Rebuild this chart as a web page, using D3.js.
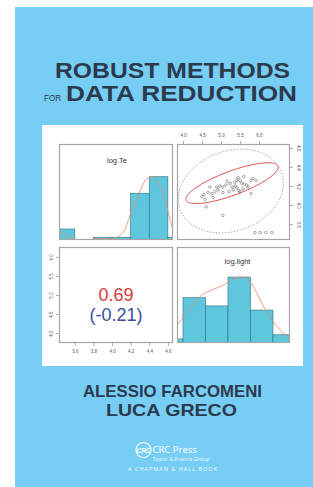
<!DOCTYPE html>
<html>
<head>
<meta charset="utf-8">
<script src="https://cdn.jsdelivr.net/npm/d3@7"></script>
<style>
body { margin: 0; background: #fff; }
</style>
</head>
<body>
<div id="cover"></div>
<script>
var svgWidth = 313,
    svgHeight = 487;

// ---- data read off the cover ----
// log.Te histogram (breaks and counts) with its density line
var teBreaks = [3.4, 3.6, 3.8, 4.0, 4.2, 4.4, 4.6, 4.8];
var teCounts = [4, 0, 1, 1, 17, 23, 1];
var teDensX = [3.43, 3.50, 3.58, 3.69, 3.82, 3.98, 4.06, 4.13, 4.19, 4.26, 4.32, 4.37, 4.43, 4.48, 4.54, 4.59, 4.63, 4.665];
var teDensY = [3.3, 1.8, 0.4, 0.0, 0.5, 0.5, 1.1, 3.3, 8.7, 14.5, 19.3, 22.2, 23.1, 21.5, 17.5, 12.0, 6.5, 2.9];

// log.light histogram with its density line
var lightBreaks = [3.5, 4.0, 4.5, 5.0, 5.5, 6.0, 6.5];
var lightCounts = [1, 11, 9, 16, 8, 2];
var lightDensX = [3.87, 4.0, 4.22, 4.44, 4.67, 4.89, 5.11, 5.29, 5.44, 5.6, 5.78, 6.0, 6.22, 6.38];
var lightDensY = [4.4, 6.1, 9.3, 11.8, 13.0, 14.0, 15.5, 16.0, 15.5, 13.0, 9.1, 5.2, 2.5, 1.2];

// scatter: log.light (x) against log.Te (y)
var scatterLight = [5.89, 6.03, 6.18, 6.34, 5.05, 4.61, 4.50, 4.76, 4.79, 4.84, 4.71, 4.89, 4.97, 5.05,
                    5.05, 5.24, 5.29, 5.37, 5.42, 5.45, 5.50, 5.32, 5.42, 5.47, 5.55, 5.61, 5.68, 5.71,
                    5.79, 5.84, 5.92, 5.79, 5.50, 5.21, 4.55, 4.66, 5.13, 5.60, 4.92, 5.16, 4.58, 5.36, 5.58];
var scatterTe =    [3.71, 3.71, 3.71, 3.71, 3.89, 3.98, 4.09, 4.12, 4.08, 4.14, 4.19, 4.19, 4.20, 4.19,
                    4.13, 4.23, 4.19, 4.20, 4.26, 4.29, 4.26, 4.16, 4.18, 4.15, 4.23, 4.22, 4.21, 4.19,
                    4.26, 4.28, 4.26, 4.12, 4.14, 4.14, 4.11, 4.13, 4.21, 4.30, 4.16, 4.25, 4.06, 4.24, 4.17];

// ellipses: centre and two half-axis vectors, in data units
var robustEllipse = {c: [5.29, 4.23], a: [1.21, 0.179], b: [0.108, -0.119]};
var classicEllipse = {c: [5.26, 4.147], a: [1.335, 0.195], b: [0.36, -0.396]};

var teTicks = [3.6, 3.8, 4.0, 4.2, 4.4, 4.6];
var teRightTicks = [3.8, 4.0, 4.2, 4.4, 4.6];
var lightTicks = [4.0, 4.5, 5.0, 5.5, 6.0];

var robustCor = "0.69",
    classicCor = "(-0.21)";

// ---- layout ----
var ink = "#2c3a4e",
    barFill = "#5ec6dd",
    barStroke = "#2f6f80",
    densColor = "#f0866a",
    frameColor = "#a6a6a6";

var svg = d3.select("#cover")
    .append("svg")
        .attr("width", svgWidth)
        .attr("height", svgHeight);

svg.append("rect")
    .attr("x", 15).attr("y", 7)
    .attr("width", svgWidth - 15).attr("height", svgHeight - 7)
    .attr("fill", "#77cef5");

// titles
svg.append("text")
    .attr("x", 55).attr("y", 78)
    .attr("textLength", 235).attr("lengthAdjust", "spacingAndGlyphs")
    .attr("font-family", "Liberation Sans, Arial, sans-serif")
    .attr("font-weight", "bold").attr("font-size", "22px")
    .attr("fill", ink)
    .text("ROBUST METHODS");

svg.append("text")
    .attr("x", 44).attr("y", 100.5)
    .attr("textLength", 17).attr("lengthAdjust", "spacingAndGlyphs")
    .attr("font-family", "Liberation Sans, Arial, sans-serif")
    .attr("font-size", "9.5px")
    .attr("fill", ink)
    .text("FOR");

svg.append("text")
    .attr("x", 66).attr("y", 101)
    .attr("textLength", 231).attr("lengthAdjust", "spacingAndGlyphs")
    .attr("font-family", "Liberation Sans, Arial, sans-serif")
    .attr("font-weight", "bold").attr("font-size", "22px")
    .attr("fill", ink)
    .text("DATA REDUCTION");

// white plate
svg.append("rect")
    .attr("x", 42).attr("y", 125)
    .attr("width", 261).attr("height", 241)
    .attr("fill", "#fff");

// panel boxes
var colL = {x0: 59, x1: 173},
    colR = {x0: 177, x1: 290},
    rowT = {y0: 144, y1: 240},
    rowB = {y0: 247, y1: 343};

// scales
var teX = d3.scaleLinear().domain([3.43, 4.655]).range([colL.x0, colL.x1]);
var teCountY = d3.scaleLinear().domain([0, 34.9]).range([rowT.y1, rowT.y0]);

var lightHistX = d3.scaleLinear().domain([3.867, 6.378]).range([colR.x0, colR.x1]);
var lightCountY = d3.scaleLinear().domain([0, 23.3]).range([rowB.y1, rowB.y0]);

var lightX = d3.scaleLinear().domain([3.842, 6.816]).range([colR.x0, colR.x1]);
var teY = d3.scaleLinear().domain([4.642, 3.632]).range([rowT.y0, rowT.y1]);

var lightY = d3.scaleLinear().domain([3.74, 6.26]).range([rowB.y1, rowB.y0]);

var defs = svg.append("defs");
function clip(id, p, q) {
    defs.append("clipPath").attr("id", id)
        .append("rect")
        .attr("x", p.x0).attr("y", q.y0)
        .attr("width", p.x1 - p.x0).attr("height", q.y1 - q.y0);
    return svg.append("g").attr("clip-path", "url(#" + id + ")");
}

function frame(p, q) {
    svg.append("rect")
        .attr("x", p.x0 + 0.5).attr("y", q.y0 + 0.5)
        .attr("width", p.x1 - p.x0 - 1).attr("height", q.y1 - q.y0 - 1)
        .attr("fill", "none")
        .attr("stroke", frameColor)
        .attr("stroke-width", 1.2);
}

function histogram(g, breaks, counts, xs, ys) {
    g.selectAll("rect.bar")
        .data(counts)
        .enter()
        .append("rect")
            .attr("class", "bar")
            .attr("x", (d, i) => xs(breaks[i]))
            .attr("y", d => ys(d))
            .attr("width", (d, i) => xs(breaks[i + 1]) - xs(breaks[i]))
            .attr("height", d => ys(0) - ys(d))
            .attr("fill", barFill)
            .attr("stroke", barStroke)
            .attr("stroke-width", 0.6);
}

function densLine(g, xv, yv, xs, ys) {
    var line = d3.line()
        .x(d => xs(d[0]))
        .y(d => ys(d[1]))
        .curve(d3.curveCatmullRom);
    g.append("path")
        .datum(xv.map((v, i) => [v, yv[i]]))
        .attr("d", line)
        .attr("fill", "none")
        .attr("stroke", densColor)
        .attr("stroke-width", 0.8);
}

function panelTitle(x, y, label) {
    svg.append("text")
        .attr("x", x).attr("y", y)
        .attr("text-anchor", "middle")
        .attr("font-family", "Liberation Sans Narrow, Arial Narrow, sans-serif")
        .attr("font-size", "7.5px")
        .attr("fill", "#333")
        .text(label);
}

// ---- top-left: log.Te histogram ----
var gTL = clip("clipTL", colL, rowT);
histogram(gTL, teBreaks, teCounts, teX, teCountY);
densLine(gTL, teDensX, teDensY, teX, teCountY);
frame(colL, rowT);
panelTitle((colL.x0 + colL.x1) / 2 + 1, 163, "log.Te");

// ---- bottom-right: log.light histogram ----
var gBR = clip("clipBR", colR, rowB);
histogram(gBR, lightBreaks, lightCounts, lightHistX, lightCountY);
densLine(gBR, lightDensX, lightDensY, lightHistX, lightCountY);
frame(colR, rowB);
panelTitle((colR.x0 + colR.x1) / 2 + 4, 264, "log.light");

// ---- top-right: scatter with ellipses ----
var gTR = clip("clipTR", colR, rowT);

function ellipsePath(e) {
    var pts = d3.range(0, 2 * Math.PI + 0.01, Math.PI / 60).map(t => [
        lightX(e.c[0] + e.a[0] * Math.cos(t) + e.b[0] * Math.sin(t)),
        teY(e.c[1] + e.a[1] * Math.cos(t) + e.b[1] * Math.sin(t))
    ]);
    return d3.line()(pts) + "Z";
}

gTR.append("path")
    .attr("d", ellipsePath(classicEllipse))
    .attr("fill", "none")
    .attr("stroke", "#8a8a8a")
    .attr("stroke-width", 0.7)
    .attr("stroke-dasharray", "1.6,1.4");

gTR.append("path")
    .attr("d", ellipsePath(robustEllipse))
    .attr("fill", "none")
    .attr("stroke", "#e2504e")
    .attr("stroke-width", 1);

gTR.selectAll("circle")
    .data(scatterLight)
    .enter()
    .append("circle")
        .attr("cx", d => lightX(d))
        .attr("cy", (d, i) => teY(scatterTe[i]))
        .attr("r", 1.3)
        .attr("fill", "none")
        .attr("stroke", "#555")
        .attr("stroke-width", 0.5);

frame(colR, rowT);

// ---- bottom-left: correlations ----
frame(colL, rowB);
var midX = (colL.x0 + colL.x1) / 2;
svg.append("text")
    .attr("x", midX).attr("y", 301)
    .attr("text-anchor", "middle")
    .attr("font-family", "Liberation Sans Narrow, Arial Narrow, sans-serif")
    .attr("font-size", "18px")
    .attr("fill", "#d9393b")
    .text(robustCor);
svg.append("text")
    .attr("x", midX).attr("y", 321)
    .attr("text-anchor", "middle")
    .attr("font-family", "Liberation Sans Narrow, Arial Narrow, sans-serif")
    .attr("font-size", "18px")
    .attr("fill", "#3b4f9e")
    .text(classicCor);

// ---- axes ----
function styleAxis(g) {
    g.select(".domain").remove();
    g.selectAll(".tick line").attr("stroke", "#777").attr("stroke-width", 0.6);
    g.selectAll(".tick text")
        .attr("font-family", "Liberation Sans Narrow, Arial Narrow, sans-serif")
        .attr("font-size", "4.5px")
        .attr("fill", "#555");
}

// bottom axis of bottom-left panel (log.Te)
var axB = svg.append("g")
    .attr("transform", `translate(0, ${rowB.y1})`)
    .call(d3.axisBottom(teX).tickValues(teTicks).tickFormat(d3.format(".1f")).tickSize(3).tickPadding(4));
styleAxis(axB);

// left axis of bottom-left panel (log.light)
var axL = svg.append("g")
    .attr("transform", `translate(${colL.x0}, 0)`)
    .call(d3.axisLeft(lightY).tickValues(lightTicks).tickFormat(d3.format(".1f")).tickSize(3).tickPadding(3));
styleAxis(axL);
axL.selectAll(".tick text")
    .attr("text-anchor", "middle")
    .attr("dy", 0)
    .attr("transform", "translate(-6,0) rotate(-90)")
    .attr("x", 0).attr("y", 0);

// top axis of top-right panel (log.light)
var axT = svg.append("g")
    .attr("transform", `translate(0, ${rowT.y0})`)
    .call(d3.axisTop(lightX).tickValues(lightTicks).tickFormat(d3.format(".1f")).tickSize(3).tickPadding(4));
styleAxis(axT);

// right axis of top-right panel (log.Te)
var axR = svg.append("g")
    .attr("transform", `translate(${colR.x1}, 0)`)
    .call(d3.axisRight(teY).tickValues(teRightTicks).tickFormat(d3.format(".1f")).tickSize(3).tickPadding(3));
styleAxis(axR);
axR.selectAll(".tick text")
    .attr("text-anchor", "middle")
    .attr("dy", 0)
    .attr("transform", "translate(7,0) rotate(90)")
    .attr("x", 0).attr("y", 0);

// ---- authors and publisher ----
svg.append("text")
    .attr("x", 83).attr("y", 397)
    .attr("textLength", 179).attr("lengthAdjust", "spacingAndGlyphs")
    .attr("font-family", "Liberation Sans, Arial, sans-serif")
    .attr("font-weight", "bold").attr("font-size", "16.5px")
    .attr("fill", ink)
    .text("ALESSIO FARCOMENI");

svg.append("text")
    .attr("x", 106).attr("y", 416)
    .attr("textLength", 131).attr("lengthAdjust", "spacingAndGlyphs")
    .attr("font-family", "Liberation Sans, Arial, sans-serif")
    .attr("font-weight", "bold").attr("font-size", "16.5px")
    .attr("fill", ink)
    .text("LUCA GRECO");

var logo = svg.append("g").attr("fill", "#fff");
logo.append("circle")
    .attr("cx", 143.5).attr("cy", 450)
    .attr("r", 7.5)
    .attr("fill", "none")
    .attr("stroke", "#fff")
    .attr("stroke-width", 1.1);
logo.append("text")
    .attr("x", 143.5).attr("y", 452.5)
    .attr("text-anchor", "middle")
    .attr("font-family", "Liberation Sans, Arial, sans-serif")
    .attr("font-weight", "bold").attr("font-style", "italic")
    .attr("font-size", "6.5px")
    .text("CRC");
logo.append("text")
    .attr("x", 152.5).attr("y", 453)
    .attr("font-family", "Open Sans, Liberation Sans, sans-serif")
    .attr("font-size", "9.5px")
    .text("CRC Press");
logo.append("text")
    .attr("x", 152.5).attr("y", 460.5)
    .attr("textLength", 57).attr("lengthAdjust", "spacingAndGlyphs")
    .attr("font-family", "Open Sans, Liberation Sans, sans-serif")
    .attr("font-size", "4.5px")
    .attr("opacity", 0.85)
    .text("Taylor & Francis Group");
logo.append("text")
    .attr("x", 128).attr("y", 470.5)
    .attr("textLength", 89).attr("lengthAdjust", "spacing")
    .attr("font-family", "Open Sans, Liberation Sans, sans-serif")
    .attr("font-size", "5.5px")
    .attr("opacity", 0.9)
    .text("A CHAPMAN & HALL BOOK");
</script>
</body>
</html>
